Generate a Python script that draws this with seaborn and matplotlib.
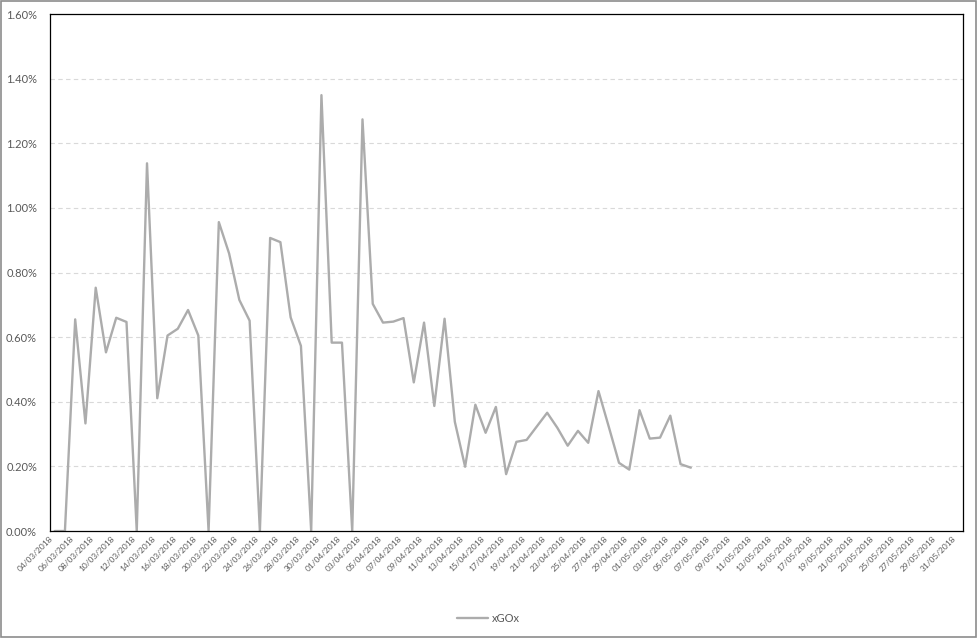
import numpy as np
import pandas as pd
import matplotlib
matplotlib.use("Agg")
import matplotlib.pyplot as plt
import seaborn as sns
from matplotlib.ticker import FuncFormatter, MultipleLocator

# daily categories shown on the axis
dates = pd.date_range("2018-03-04", "2018-05-31", freq="D")
date_labels = [d.strftime("%d/%m/%Y") for d in dates]

# xGOx in percent, 04/03 .. 05/05 (rest of the axis is empty)
xgox = [0.000, 0.000, 0.655, 0.333, 0.753, 0.553, 0.660, 0.647, 0.000, 1.138,
        0.411, 0.605, 0.626, 0.684, 0.605, 0.000, 0.956, 0.859, 0.715, 0.651,
        0.000, 0.907, 0.894, 0.661, 0.573, 0.000, 1.349, 0.583,
        0.583, 0.000, 1.274, 0.703, 0.645, 0.648, 0.659, 0.460, 0.645, 0.387,
        0.657, 0.338, 0.199, 0.391, 0.304, 0.384, 0.176, 0.276, 0.282, 0.324,
        0.366, 0.319, 0.264, 0.310, 0.273, 0.433, 0.323, 0.211, 0.190, 0.374,
        0.286, 0.289, 0.357, 0.207, 0.196]

df = pd.DataFrame({"pos": np.arange(len(xgox)), "xGOx": xgox})

sns.set_style("white")
plt.rcParams["font.family"] = ["Lato", "DejaVu Sans"]

fig = plt.figure(figsize=(9.77, 6.38), dpi=100)
ax = fig.add_axes([0.0507, 0.1677, 0.9347, 0.8103])

sns.lineplot(data=df, x="pos", y="xGOx", ax=ax, color="#acacac",
             linewidth=1.7, label="xGOx", legend=False)

ax.set_xlim(-0.5, len(dates) - 0.5)
ax.set_ylim(0, 1.6)
ax.yaxis.set_major_locator(MultipleLocator(0.2))
ax.yaxis.set_major_formatter(FuncFormatter(lambda v, p: f"{v:.2f}%"))

ticks = np.arange(0, len(dates), 2)
ax.set_xticks(ticks)
ax.set_xticklabels([date_labels[i] for i in ticks], rotation=45, ha="right",
                   fontsize=6, color="#595959")
ax.tick_params(axis="x", length=0, pad=3)
ax.tick_params(axis="y", length=0, pad=9, labelsize=8, labelcolor="#595959")
ax.set_xlabel("")
ax.set_ylabel("")

# dashed horizontal gridlines
for v in np.arange(0.2, 1.6, 0.2):
    ax.axhline(v, color="#d9d9d9", linewidth=0.8, linestyle=(0, (4, 3)), zorder=0)

for s in ax.spines.values():
    s.set_color("black")
    s.set_linewidth(0.9)

handles, labels = ax.get_legend_handles_labels()
leg = fig.legend(handles, labels, loc="center", bbox_to_anchor=(0.5, 0.031),
                 frameon=False, fontsize=8, handlelength=2.8, handletextpad=0.3)
for t in leg.get_texts():
    t.set_color("#595959")

# outer chart border
fig.patches.append(plt.Rectangle((0.001, 0.0015), 0.998, 0.997, transform=fig.transFigure,
                                 fill=False, edgecolor="#8c8c8c", linewidth=1.2))

fig.savefig("out.png", dpi=100)
